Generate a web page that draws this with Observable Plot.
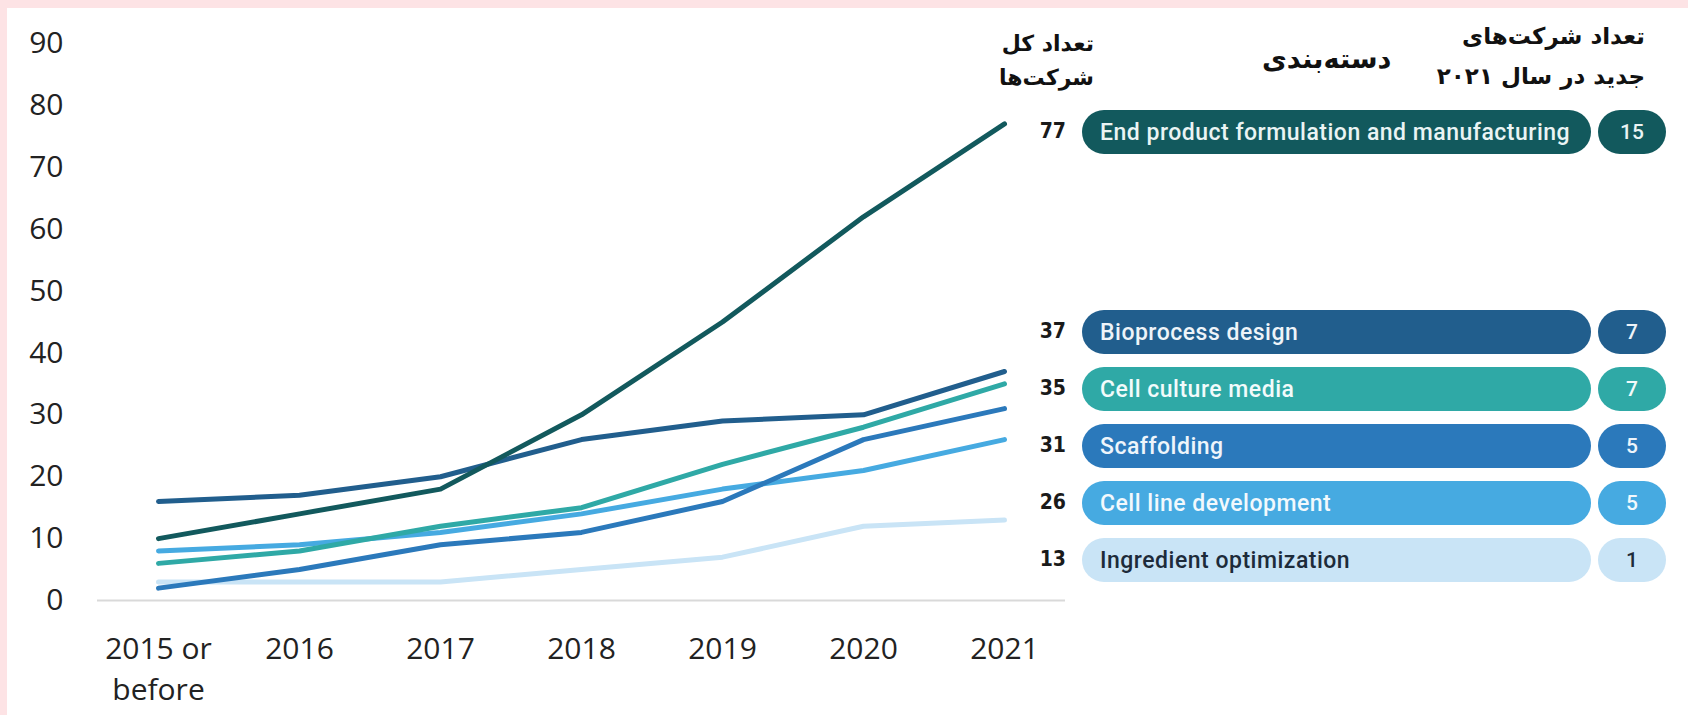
<!DOCTYPE html>
<html><head><meta charset="utf-8">
<script src="https://cdn.jsdelivr.net/npm/d3@7"></script>
<script src="https://cdn.jsdelivr.net/npm/@observablehq/plot@0.6"></script>
<style>
html,body{margin:0;padding:0;width:1688px;height:715px;overflow:hidden;background:#fde3e5;position:relative;}
#panel{position:absolute;left:7px;top:8px;right:0;bottom:0;background:#fff;}
#chart{position:absolute;left:0;top:0;}
.fa{position:absolute;font-family:"DejaVu Sans",sans-serif;font-weight:bold;color:#111;direction:rtl;white-space:nowrap;}
.tot{position:absolute;font-family:"Liberation Sans Narrow","DejaVu Sans Condensed",sans-serif;font-weight:bold;font-size:21px;color:#1a1a1a;text-align:right;width:40px;}
.pill{position:absolute;border-radius:22px;box-sizing:border-box;padding-left:18px;display:flex;align-items:center;font-family:Roboto,sans-serif;font-size:23px;letter-spacing:0.5px;font-weight:500;white-space:nowrap;}
.npill{position:absolute;border-radius:22px;display:flex;align-items:center;justify-content:center;font-family:Roboto,sans-serif;font-size:21px;font-weight:500;}
</style></head>
<body>
<div id="panel"></div>
<div id="chart"></div>
<div id="legend"></div>
<script>
// ---- data ----
const years = ["2015 or before", "2016", "2017", "2018", "2019", "2020", "2021"];
const yTicks = [0, 10, 20, 30, 40, 50, 60, 70, 80, 90];
const categories = ["End product formulation and manufacturing", "Bioprocess design", "Cell culture media", "Scaffolding", "Cell line development", "Ingredient optimization"];
const endProduct   = [10, 14, 18, 30, 45, 62, 77];
const bioprocess   = [16, 17, 20, 26, 29, 30, 37];
const cultureMedia = [6, 8, 12, 15, 22, 28, 35];
const scaffolding  = [2, 5, 9, 11, 16, 26, 31];
const cellLine     = [8, 9, 11, 14, 18, 21, 26];
const ingredient   = [3, 3, 3, 5, 7, 12, 13];
const totals = [77, 37, 35, 31, 26, 13];
const new2021 = [15, 7, 7, 5, 5, 1];
const headTotal = ["تعداد کل", "شرکت\u200cها"];
const headCat = "دسته\u200cبندی";
const headNew = ["تعداد شرکت\u200cهای", "جدید در سال ۲۰۲۱"];

// ---- styles ----
const colors = ["#12595d", "#215e8d", "#2fa9a6", "#2b79bb", "#46aae1", "#c9e4f6"];
const textColors = ["#eaf4f4", "#eef4f9", "#f2fbfb", "#eef5fb", "#f2f9fd", "#1d2b3a"];

const seriesVals = [endProduct, bioprocess, cultureMedia, scaffolding, cellLine, ingredient];
const rows = [];
for (let i = categories.length - 1; i >= 0; i--) {
  years.forEach((yr, j) => rows.push({cat: categories[i], year: yr, value: seriesVals[i][j]}));
}

const chart = Plot.plot({
  width: 1080, height: 715,
  marginLeft: 97, marginRight: 15, marginTop: 43, marginBottom: 115,
  x: {type: "point", domain: years, padding: 0.43, label: null},
  y: {domain: [0, 90], label: null},
  color: {domain: categories, range: colors},
  style: {fontFamily: "'Open Sans', sans-serif", fontSize: "30px", color: "#222", background: "transparent", overflow: "visible"},
  marks: [
    Plot.axisY(yTicks, {tickSize: 0, tickPadding: 34, label: null, fontSize: 30}),
    Plot.axisX({tickSize: 0, tickPadding: 30, label: null, fontSize: 30, lineHeight: 1.36,
      tickFormat: d => d === "2015 or before" ? "2015 or\nbefore" : d}),
    Plot.ruleY([0], {stroke: "#d9d9d9", strokeWidth: 2}),
    Plot.line(rows, {x: "year", y: "value", z: "cat", stroke: "cat", strokeWidth: 5, strokeLinejoin: "round", strokeLinecap: "round"})
  ]
});
document.getElementById("chart").append(chart);

// ---- legend table (html) ----
const L = document.getElementById("legend");
function add(cls, text, css) {
  const d = document.createElement("div");
  d.className = cls; d.textContent = text;
  Object.assign(d.style, css);
  L.append(d); return d;
}
add("fa", headTotal[0], {right: (1688 - 1094) + "px", top: "31px", fontSize: "22px"});
add("fa", headTotal[1], {right: (1688 - 1094) + "px", top: "65px", fontSize: "22px"});
add("fa", headCat, {left: "1262px", top: "43px", fontSize: "27px", direction: "rtl"});
add("fa", headNew[0], {right: (1688 - 1645) + "px", top: "23px", fontSize: "23px"});
add("fa", headNew[1], {right: (1688 - 1645) + "px", top: "63px", fontSize: "23px"});

const rowTop = i => i === 0 ? 110 : 310 + (i - 1) * 57;
categories.forEach((c, i) => {
  const top = rowTop(i);
  add("tot", String(totals[i]), {left: "1026px", top: (top + 9) + "px"});
  add("pill", c, {left: "1082px", top: top + "px", width: "509px", height: "44px", background: colors[i], color: textColors[i]});
  add("npill", String(new2021[i]), {left: "1598px", top: top + "px", width: "68px", height: "44px", background: colors[i], color: textColors[i]});
});
</script>
</body></html>
